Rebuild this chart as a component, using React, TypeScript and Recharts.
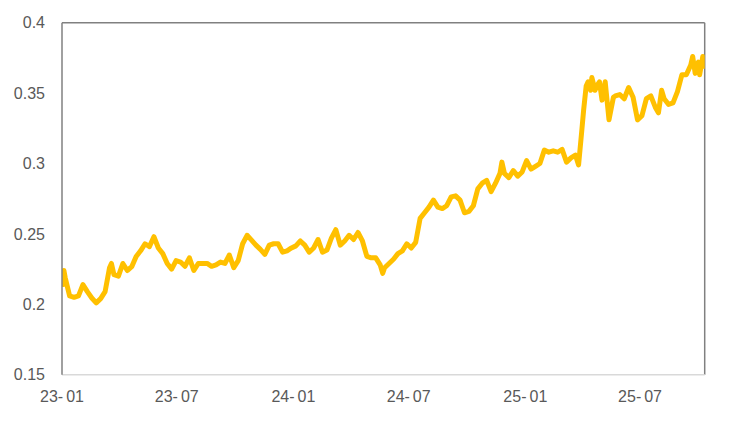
import React from "react";
import { LineChart, Line, XAxis, YAxis, ReferenceLine } from "recharts";

const dates: string[] = [
  "2023-01-03","2023-01-04","2023-01-06","2023-01-13","2023-01-20","2023-01-27",
  "2023-02-03","2023-02-10","2023-02-17","2023-02-24",
  "2023-03-03","2023-03-10","2023-03-17","2023-03-20","2023-03-24","2023-03-31",
  "2023-04-07","2023-04-14","2023-04-21","2023-04-28",
  "2023-05-05","2023-05-12","2023-05-19","2023-05-26",
  "2023-06-02","2023-06-09","2023-06-16","2023-06-23","2023-06-30",
  "2023-07-07","2023-07-14","2023-07-21","2023-07-28",
  "2023-08-04","2023-08-11","2023-08-18","2023-08-25",
  "2023-09-01","2023-09-08","2023-09-15","2023-09-22","2023-09-29",
  "2023-10-06","2023-10-13","2023-10-20","2023-10-27",
  "2023-11-03","2023-11-10","2023-11-17","2023-11-24",
  "2023-12-01","2023-12-08","2023-12-15","2023-12-22","2023-12-29",
  "2024-01-05","2024-01-12","2024-01-19","2024-01-26",
  "2024-02-02","2024-02-09","2024-02-16","2024-02-23",
  "2024-03-01","2024-03-08","2024-03-15","2024-03-22","2024-03-29",
  "2024-04-05","2024-04-12","2024-04-19","2024-04-26",
  "2024-05-03","2024-05-10","2024-05-17","2024-05-21","2024-05-24","2024-05-31",
  "2024-06-07","2024-06-14","2024-06-21","2024-06-28",
  "2024-07-05","2024-07-12","2024-07-19","2024-07-26",
  "2024-08-02","2024-08-09","2024-08-16","2024-08-23","2024-08-30",
  "2024-09-06","2024-09-13","2024-09-20","2024-09-27",
  "2024-10-04","2024-10-11","2024-10-18","2024-10-25",
  "2024-11-01","2024-11-08","2024-11-15","2024-11-22","2024-11-25","2024-11-29",
  "2024-12-06","2024-12-13","2024-12-20","2024-12-27",
  "2025-01-03","2025-01-10","2025-01-17","2025-01-24","2025-01-31",
  "2025-02-07","2025-02-14","2025-02-21","2025-02-28",
  "2025-03-07","2025-03-14","2025-03-21","2025-03-26","2025-03-31",
  "2025-04-03","2025-04-07","2025-04-10","2025-04-14","2025-04-16","2025-04-21","2025-04-25","2025-04-28",
  "2025-05-02","2025-05-07","2025-05-09","2025-05-13","2025-05-16","2025-05-20","2025-05-23","2025-05-30",
  "2025-06-06","2025-06-13","2025-06-20","2025-06-27",
  "2025-07-04","2025-07-11","2025-07-18","2025-07-25","2025-07-30",
  "2025-08-04","2025-08-08","2025-08-15","2025-08-22","2025-08-29",
  "2025-09-05","2025-09-12","2025-09-19","2025-09-22","2025-09-26",
  "2025-10-01","2025-10-03","2025-10-08","2025-10-10",
];

const values: number[] = [
  0.214, 0.224, 0.219, 0.206, 0.205, 0.206,
  0.214, 0.209, 0.2045, 0.201,
  0.204, 0.209, 0.226, 0.229, 0.221, 0.220,
  0.229, 0.224, 0.2267, 0.234,
  0.238, 0.243, 0.241, 0.248,
  0.240, 0.236, 0.229, 0.225, 0.231,
  0.230, 0.227, 0.233, 0.224,
  0.229, 0.229, 0.229, 0.227,
  0.228, 0.230, 0.229, 0.235, 0.226,
  0.231, 0.243, 0.249, 0.2456,
  0.242, 0.239, 0.2355, 0.242,
  0.243, 0.243, 0.237, 0.238, 0.240,
  0.2415, 0.245, 0.242, 0.237,
  0.240, 0.246, 0.237, 0.2385,
  0.247, 0.253, 0.242, 0.245, 0.249,
  0.246, 0.251, 0.245, 0.234,
  0.233, 0.233, 0.228, 0.222, 0.226, 0.229,
  0.232, 0.236, 0.238, 0.243,
  0.240, 0.244, 0.261, 0.265,
  0.269, 0.274, 0.269, 0.268, 0.270,
  0.2763, 0.277, 0.274, 0.265,
  0.266, 0.270, 0.282, 0.286,
  0.288, 0.280, 0.286, 0.293, 0.301, 0.293,
  0.290, 0.295, 0.291, 0.294,
  0.302, 0.296, 0.298, 0.300, 0.3095,
  0.308, 0.309, 0.308, 0.310,
  0.301, 0.304, 0.306, 0.299, 0.323,
  0.338, 0.355, 0.358, 0.352, 0.361, 0.352, 0.356, 0.358,
  0.345, 0.358, 0.349, 0.331, 0.338, 0.347, 0.348, 0.349,
  0.346, 0.354, 0.347, 0.331,
  0.334, 0.346, 0.348, 0.340, 0.336,
  0.352, 0.346, 0.342, 0.343, 0.351,
  0.363, 0.363, 0.370, 0.376, 0.364,
  0.372, 0.363, 0.376, 0.369,
];

const xTickDates: string[] = ["2023-01-01", "2023-07-01", "2024-01-01", "2024-07-01", "2025-01-01", "2025-07-01"];
const xTickLabels: string[] = ["23-01", "23-07", "24-01", "24-07", "25-01", "25-07"];
const yTicks: number[] = [0.15, 0.2, 0.25, 0.3, 0.35, 0.4];

const xStart = "2023-01-01";
const xEnd = "2025-10-11";

const data = dates.map((d, i) => ({ t: Date.parse(d), v: values[i] }));
const xTicks = xTickDates.map((d) => Date.parse(d));
const T0 = Date.parse(xStart);
const T1 = Date.parse(xEnd);

const FONT = "'Liberation Sans', Arial, sans-serif";
const TEXT = "#595959";

const XTick = (props: any) => {
  const { x, y, payload } = props;
  const idx = xTicks.indexOf(payload.value);
  const label = idx >= 0 ? xTickLabels[idx] : "";
  const [a, b] = label.split("-");
  return (
    <text x={x} y={y} dy="0.71em" textAnchor="middle" fill={TEXT} fontSize={16} fontFamily={FONT}>
      {a + "-"}
      <tspan dx={3}>{b}</tspan>
    </text>
  );
};

export default function App() {
  return (
    <div style={{ width: 731, height: 427 }}>
      <style>{"body{margin:0}"}</style>
      <LineChart
        width={731}
        height={427}
        data={data}
        margin={{ top: 22.7, right: 26.3, bottom: 22.3, left: 12 }}
      >
        <XAxis
          dataKey="t"
          type="number"
          domain={[T0, T1]}
          ticks={xTicks}
          allowDataOverflow
          height={30}
          tickLine={false}
          tickSize={0}
          tickMargin={16}
          axisLine={{ stroke: "#d9d9d9", strokeWidth: 1.5 }}
          tick={XTick}
          interval={0}
        />
        <YAxis
          type="number"
          domain={[0.15, 0.4]}
          ticks={yTicks}
          width={50}
          tickLine={false}
          tickSize={0}
          tickMargin={17}
          axisLine={{ stroke: "#808080", strokeWidth: 1.5 }}
          tick={{ fill: TEXT, fontSize: 16, fontFamily: FONT }}
          interval={0}
        />
        <ReferenceLine y={0.4} stroke="#808080" strokeWidth={1.5} />
        <ReferenceLine x={T1} stroke="#808080" strokeWidth={1.5} />
        <Line
          type="linear"
          dataKey="v"
          stroke="#FFC000"
          strokeWidth={5}
          strokeLinejoin="round"
          strokeLinecap="round"
          dot={false}
          activeDot={false}
          isAnimationActive={false}
        />
      </LineChart>
    </div>
  );
}
